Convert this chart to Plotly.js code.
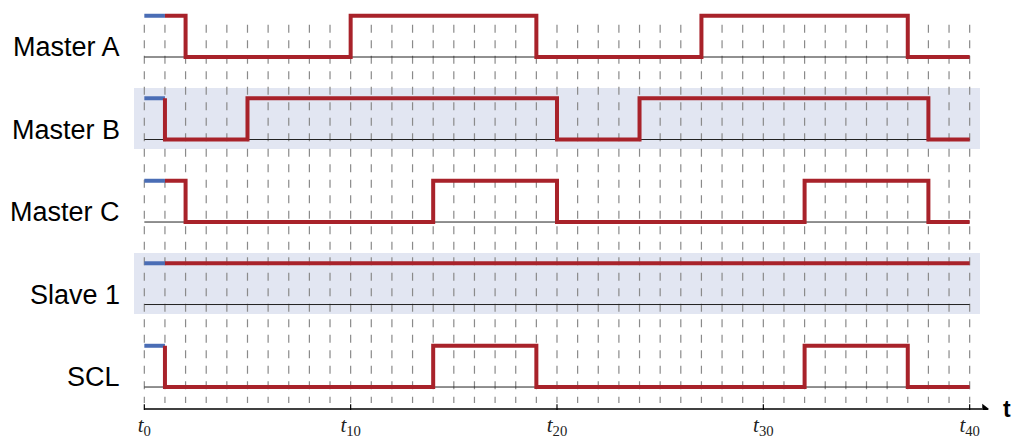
<!DOCTYPE html>
<html>
<head>
<meta charset="utf-8">
<script src="https://cdn.plot.ly/plotly-3.0.1.min.js"></script>
<style>html,body{margin:0;padding:0;background:#fff;}#chart{width:1015px;height:441px;}</style>
</head>
<body>
<div id="chart"></div>
<script>
// ---- data ----
const rowNames = ['Master A', 'Master B', 'Master C', 'Slave 1', 'SCL'];
const shadedRows = ['Master B', 'Slave 1'];
const initTimes = [0, 1];          // blue initial segment (high)
const masterA_t = [1, 2, 10, 19, 27, 37, 40];
const masterA_v = [1, 0, 1, 0, 1, 0, 0];
const masterB_t = [1, 1, 5, 20, 24, 38, 40];
const masterB_v = [1, 0, 1, 0, 1, 0, 0];
const masterC_t = [1, 2, 14, 20, 32, 38, 40];
const masterC_v = [1, 0, 1, 0, 1, 0, 0];
const slave1_t = [1, 40];
const slave1_v = [1, 1];
const scl_t = [1, 1, 14, 19, 32, 37, 40];
const scl_v = [1, 0, 1, 0, 1, 0, 0];
const tickVals = [0, 10, 20, 30, 40];
const tickSubs = ['0', '10', '20', '30', '40'];
const tStart = 0, tEnd = 40;
const axisEnd = 40.6;   // where the time axis arrow head begins

const signals = [
  [masterA_t, masterA_v], [masterB_t, masterB_v], [masterC_t, masterC_v],
  [slave1_t, slave1_v], [scl_t, scl_v]
];

// ---- layout helpers ----
const ROWSTEP = 2;
const nRows = rowNames.length;
const base = i => (nRows - 1 - i) * ROWSTEP;
const axisY = -0.533;
const gridTop = 8.78, gridBot = -0.39;
const RED = '#a8222a', BLUE = '#4a6db5';

const traces = [];
// dashed grid
const gx = [], gy = [];
for (let t = tStart; t <= tEnd; t++) { gx.push(t, t, null); gy.push(gridTop, gridBot, null); }
traces.push({x: gx, y: gy, mode: 'lines', line: {color: '#8a8a8a', width: 1.2, dash: '8px,7.5px'}, hoverinfo: 'skip'});
// baselines
const bx = [], by = [];
rowNames.forEach((n, i) => { bx.push(tStart, tEnd, null); by.push(base(i), base(i), null); });
traces.push({x: bx, y: by, mode: 'lines', line: {color: '#222', width: 1}, hoverinfo: 'skip'});
// signals
signals.forEach(([ts, vs], i) => {
  traces.push({x: initTimes, y: initTimes.map(() => base(i) + 1), mode: 'lines',
    line: {color: BLUE, width: 4}, hoverinfo: 'skip'});
  traces.push({x: ts, y: vs.map(v => base(i) + v), mode: 'lines',
    line: {color: RED, width: 4, shape: 'hv'}, hoverinfo: 'skip'});
});
// time axis line
traces.push({x: [tStart, axisEnd], y: [axisY, axisY], mode: 'lines',
  line: {color: '#000', width: 1.3}, hoverinfo: 'skip'});
// arrow head
traces.push({x: [axisEnd + 0.12], y: [axisY], mode: 'markers',
  marker: {symbol: 'triangle-right', size: 9, color: '#000', line: {width: 0}}, hoverinfo: 'skip'});
// axis ticks
traces.push({x: tickVals, y: tickVals.map(() => axisY - 0.02), mode: 'markers',
  marker: {symbol: 'line-ns-open', size: 8, color: '#000', line: {color: '#000', width: 1.2}}, hoverinfo: 'skip'});

const shapes = shadedRows.map(n => {
  const i = rowNames.indexOf(n);
  return {type: 'rect', xref: 'x', yref: 'y', x0: -0.5, x1: 40.5, y0: base(i) - 0.23, y1: base(i) + 1.25,
    fillcolor: 'rgb(226,230,242)', line: {width: 0}, layer: 'below'};
});

const annotations = rowNames.map((n, i) => ({
  text: n, xref: 'paper', yref: 'y', x: -12 / 879, y: base(i) + 0.235, xanchor: 'right', yanchor: 'middle',
  showarrow: false, font: {family: 'Liberation Sans, Arial, sans-serif', size: 27, color: '#000'}
}));
annotations.push({text: '<b>t</b>', xref: 'paper', yref: 'y', x: (1007 - 134) / 879, y: axisY, xanchor: 'center', yanchor: 'middle',
  showarrow: false, font: {family: 'Liberation Sans, Arial, sans-serif', size: 23, color: '#000'}});

const layout = {
  width: 1015, height: 441,
  margin: {l: 134, r: 2, t: 0, b: 31},
  paper_bgcolor: '#fff', plot_bgcolor: '#fff',
  showlegend: false, hovermode: false,
  xaxis: {range: [-0.5, 42.1], showgrid: false, zeroline: false, showline: false, ticks: '',
    tickmode: 'array', tickvals: tickVals, ticktext: tickSubs.map(s => '<i>t</i><sub>' + s + '</sub>'),
    tickfont: {family: 'Liberation Serif, DejaVu Serif, serif', size: 21, color: '#222'}},
  yaxis: {range: [-0.557, 9.382], showgrid: false, zeroline: false, showline: false, showticklabels: false, ticks: ''},
  shapes: shapes, annotations: annotations
};

Plotly.newPlot('chart', traces, layout, {staticPlot: true, displayModeBar: false});
</script>
</body>
</html>
